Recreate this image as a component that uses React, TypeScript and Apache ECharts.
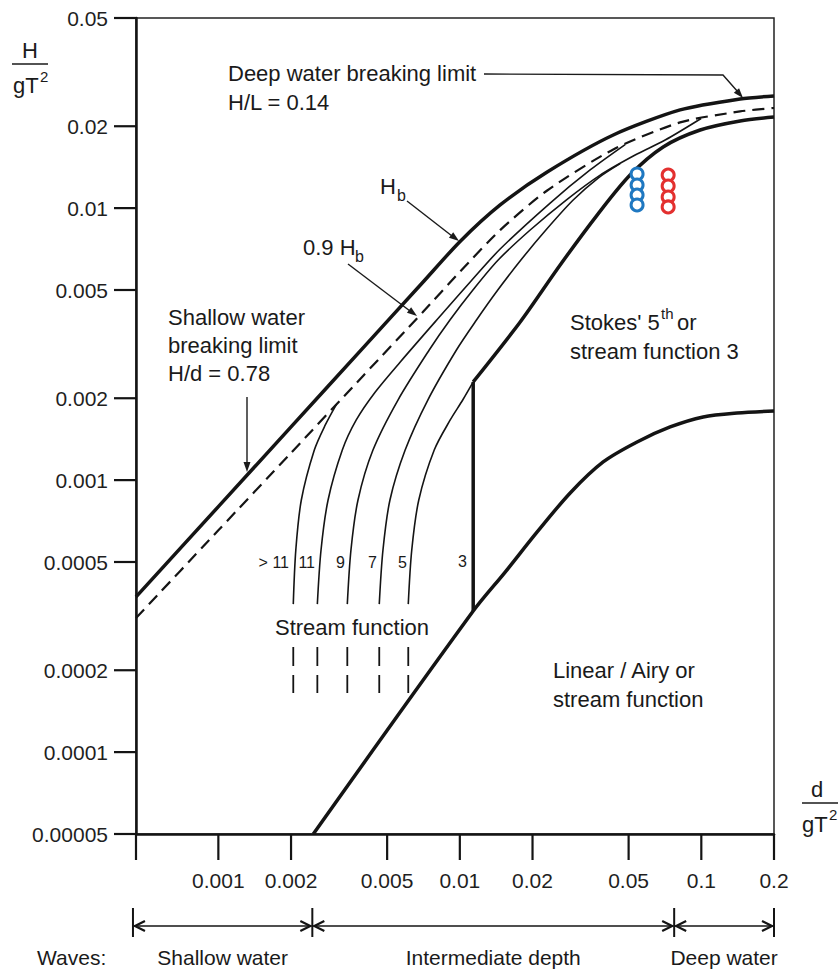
import React, { useEffect, useRef } from "react";
import * as echarts from "echarts";

const FONT = "'Liberation Sans', Arial, Helvetica, sans-serif";
const INK = "#141414";

const X_MIN = 0.000456;
const X_MAX = 0.2;
const Y_MIN = 0.00005;
const Y_MAX = 0.05;

const xTickValues = [0.000456, 0.001, 0.002, 0.005, 0.01, 0.02, 0.05, 0.1, 0.2];
const xTickLabels = ["", "0.001", "0.002", "0.005", "0.01", "0.02", "0.05", "0.1", "0.2"];
const yTickValues = [0.05, 0.02, 0.01, 0.005, 0.002, 0.001, 0.0005, 0.0002, 0.0001, 0.00005];
const yTickLabels = ["0.05", "0.02", "0.01", "0.005", "0.002", "0.001", "0.0005", "0.0002", "0.0001", "0.00005"];

// Breaking limit Hb
const hbD = [0.000456, 0.001, 0.002, 0.004, 0.007, 0.01, 0.01469, 0.023, 0.0432, 0.0817, 0.1447, 0.2];
const hbH = [0.000372, 0.000799, 0.00157, 0.003083, 0.005316, 0.007525, 0.01027, 0.01358, 0.01857, 0.02296, 0.02519, 0.02584];
// 0.9 Hb (dashed)
const dashD = [0.000456, 0.001, 0.002, 0.004, 0.007, 0.01, 0.01469, 0.023, 0.0432, 0.0817, 0.1447, 0.2];
const dashH = [0.000311, 0.000654, 0.001259, 0.002431, 0.00413, 0.00583, 0.0083, 0.01161, 0.01643, 0.02066, 0.02267, 0.02334];
// Stokes 5th / stream function 3 boundary
const stokesD = [0.01136, 0.01778, 0.02603, 0.03704, 0.0507, 0.0695, 0.0989, 0.1447, 0.2];
const stokesH = [0.002296, 0.003814, 0.00618, 0.00943, 0.01323, 0.01678, 0.01937, 0.02091, 0.02163];
// vertical boundary (stream function 3)
const sf3D = [0.01136, 0.01136];
const sf3H = [0.00033, 0.002296];
// Linear / Airy boundary
const linD = [0.002473, 0.01136, 0.01541, 0.02091, 0.02864, 0.03923, 0.0542, 0.0743, 0.1018, 0.1406, 0.2];
const linH = [0.00005, 0.00033, 0.000459, 0.000645, 0.000897, 0.001166, 0.001381, 0.001568, 0.001707, 0.001765, 0.001795];

// Stream function order curves
const sfGt11D = [0.002043, 0.002093, 0.002206, 0.002497, 0.002773, 0.003079];
const sfGt11H = [0.00035, 0.0005535, 0.000845, 0.00129, 0.001595, 0.001895];
const sf11D = [0.00257, 0.002662, 0.002847, 0.003261, 0.003725, 0.004465, 0.005667, 0.008295, 0.01104, 0.01469, 0.02366, 0.03464, 0.04837];
const sf11H = [0.00035, 0.0005535, 0.000845, 0.00129, 0.001664, 0.002109, 0.002719, 0.004012, 0.005352, 0.007073, 0.01044, 0.01381, 0.01712];
const sf9D = [0.00342, 0.003541, 0.003787, 0.004368, 0.005544, 0.007468, 0.0091, 0.01133, 0.014415, 0.01956, 0.02757, 0.03813, 0.05321, 0.07083, 0.0998];
const sf9H = [0.00035, 0.0005535, 0.000845, 0.00129, 0.00197, 0.003009, 0.003879, 0.005, 0.006445, 0.008309, 0.01071, 0.01323, 0.01568, 0.0178, 0.02136];
const sf7D = [0.004638, 0.004805, 0.005136, 0.005937, 0.007369, 0.009681, 0.01172, 0.01436, 0.0179, 0.02272, 0.02947, 0.03739, 0.04612];
const sf7H = [0.00035, 0.0005535, 0.000845, 0.00129, 0.00197, 0.003009, 0.003879, 0.005, 0.006445, 0.008309, 0.01071, 0.0129, 0.01458];
const sf5D = [0.006116, 0.006323, 0.006761, 0.007834, 0.009125, 0.01028, 0.01136];
const sf5H = [0.00035, 0.0005535, 0.000845, 0.00129, 0.001664, 0.00197, 0.002296];

// short dashed stubs under "Stream function"
const stubD = [0.002043, 0.00257, 0.00342, 0.004638, 0.006116];
const stubTop = 0.0002435;
const stubBottom = 0.000165;

// measured points
const blueD = [0.0542, 0.0542, 0.0542, 0.0542];
const blueH = [0.01335, 0.01216, 0.01117, 0.01027];
const redD = [0.0729, 0.0729, 0.0729, 0.0729];
const redH = [0.01323, 0.01206, 0.01099, 0.0101];

// water depth zones
const zoneBounds = [0.000443, 0.00245, 0.0772, 0.2];
const zoneLabels = ["Shallow water", "Intermediate depth", "Deep water"];

const zip = (xs: number[], ys: number[]) => xs.map((x, i) => [x, ys[i]]);

const curve = (name: string, xs: number[], ys: number[], width: number, dash?: number[], smooth = 0.3) => ({
  name,
  type: "line",
  data: zip(xs, ys),
  symbol: "none",
  showSymbol: false,
  smooth,
  silent: true,
  clip: false,
  lineStyle: { color: INK, width, type: dash ? dash : "solid", cap: "butt" },
  z: 3,
});

const txt = (x: number, y: number, text: string, size = 22, align = "left") => ({
  type: "text",
  x,
  y,
  silent: true,
  style: {
    text,
    fill: "#1a1a1a",
    fontSize: size,
    fontFamily: FONT,
    align,
    textAlign: align,
    verticalAlign: "middle",
    textVerticalAlign: "middle",
  },
});

const seg = (x1: number, y1: number, x2: number, y2: number, w = 1.4) => ({
  type: "line",
  silent: true,
  shape: { x1, y1, x2, y2 },
  style: { stroke: "#1a1a1a", lineWidth: w },
});

const head = (tx: number, ty: number, fx: number, fy: number) => {
  const dx = tx - fx;
  const dy = ty - fy;
  const L = Math.sqrt(dx * dx + dy * dy);
  const ux = dx / L;
  const uy = dy / L;
  const bx = tx - ux * 10;
  const by = ty - uy * 10;
  return {
    type: "polygon",
    silent: true,
    shape: { points: [[tx, ty], [bx - uy * 3.5, by + ux * 3.5], [bx + uy * 3.5, by - ux * 3.5]] },
    style: { fill: "#1a1a1a" },
  };
};

export default function App() {
  const ref = useRef<HTMLDivElement>(null);
  useEffect(() => {
    if (!ref.current) return;
    const chart = echarts.init(ref.current, null, { renderer: "svg" });
    const option: any = {
      animation: false,
      backgroundColor: "#ffffff",
      grid: { left: 136, top: 18, width: 638, height: 816, show: true, borderColor: "#222", borderWidth: 1.5, backgroundColor: "transparent" },
      xAxis: {
        type: "log",
        logBase: 10,
        min: X_MIN,
        max: X_MAX,
        axisLine: { show: true, onZero: false, lineStyle: { color: INK, width: 2.5 } },
        axisTick: { show: false },
        axisLabel: { show: false },
        splitLine: { show: false },
        minorTick: { show: false },
      },
      yAxis: {
        type: "log",
        logBase: 10,
        min: Y_MIN,
        max: Y_MAX,
        axisLine: { show: true, onZero: false, lineStyle: { color: INK, width: 2.5 } },
        axisTick: { show: false },
        axisLabel: { show: false },
        splitLine: { show: false },
        minorTick: { show: false },
      },
      series: [
        curve("Hb", hbD, hbH, 3.5, undefined, 0.25),
        curve("0.9 Hb", dashD, dashH, 2.2, [12, 7], 0.25),
        curve("Stokes 5th boundary", stokesD, stokesH, 3.5),
        { ...curve("Stream function 3", sf3D, sf3H, 3.5), smooth: false },
        curve("Linear boundary", linD, linH, 3.5),
        curve("SF >11", sfGt11D, sfGt11H, 1.6),
        curve("SF 11", sf11D, sf11H, 1.6),
        curve("SF 9", sf9D, sf9H, 1.6),
        curve("SF 7", sf7D, sf7H, 1.6),
        curve("SF 5", sf5D, sf5H, 1.6),
        {
          type: "custom",
          coordinateSystem: "cartesian2d",
          silent: true,
          data: stubD.map((d) => [d, stubTop]),
          renderItem: (params: any, api: any) => {
            const a = api.coord([api.value(0), stubTop]);
            const b = api.coord([api.value(0), stubBottom]);
            return {
              type: "line",
              shape: { x1: a[0], y1: a[1], x2: b[0], y2: b[1] },
              style: { stroke: INK, lineWidth: 1.8, lineDash: [19, 9] },
            };
          },
        },
        {
          type: "custom",
          coordinateSystem: "cartesian2d",
          silent: true,
          data: xTickValues.map((v, i) => [v, Y_MIN, i]),
          renderItem: (params: any, api: any) => {
            const p = api.coord([api.value(0), Y_MIN]);
            const i = params.dataIndex;
            return {
              type: "group",
              children: [
                { type: "line", shape: { x1: p[0], y1: p[1], x2: p[0], y2: p[1] + 26 }, style: { stroke: INK, lineWidth: 2.2 } },
                {
                  type: "text",
                  x: p[0],
                  y: p[1] + 46,
                  style: { text: xTickLabels[i], fill: "#1f1f1f", fontSize: 21, fontFamily: FONT, align: "center", textAlign: "center", verticalAlign: "middle", textVerticalAlign: "middle" },
                },
              ],
            };
          },
        },
        {
          type: "custom",
          coordinateSystem: "cartesian2d",
          silent: true,
          data: yTickValues.map((v) => [X_MIN, v]),
          renderItem: (params: any, api: any) => {
            const p = api.coord([X_MIN, api.value(1)]);
            const i = params.dataIndex;
            return {
              type: "group",
              children: [
                { type: "line", shape: { x1: p[0] - 22, y1: p[1], x2: p[0], y2: p[1] }, style: { stroke: INK, lineWidth: 2.2 } },
                {
                  type: "text",
                  x: p[0] - 28,
                  y: p[1],
                  style: { text: yTickLabels[i], fill: "#1f1f1f", fontSize: 21, fontFamily: FONT, align: "right", textAlign: "right", verticalAlign: "middle", textVerticalAlign: "middle" },
                },
              ],
            };
          },
        },
        {
          type: "custom",
          coordinateSystem: "cartesian2d",
          silent: true,
          data: zoneBounds.map((b) => [b, Y_MIN]),
          renderItem: (params: any, api: any) => {
            const i = params.dataIndex;
            const p = api.coord([zoneBounds[i], Y_MIN]);
            const y = p[1] + 92;
            const children: any[] = [
              { type: "line", shape: { x1: p[0], y1: p[1] + 74, x2: p[0], y2: p[1] + 103 }, style: { stroke: INK, lineWidth: 2 } },
            ];
            if (i < zoneBounds.length - 1) {
              const q = api.coord([zoneBounds[i + 1], Y_MIN]);
              children.push({ type: "line", shape: { x1: p[0] + 1, y1: y, x2: q[0] - 1, y2: y }, style: { stroke: INK, lineWidth: 1.5 } });
              children.push({ type: "polyline", shape: { points: [[p[0] + 12, y - 5], [p[0] + 2, y], [p[0] + 12, y + 5]] }, style: { stroke: INK, fill: "none", lineWidth: 2.2 } });
              children.push({ type: "polyline", shape: { points: [[q[0] - 12, y - 5], [q[0] - 2, y], [q[0] - 12, y + 5]] }, style: { stroke: INK, fill: "none", lineWidth: 2.2 } });
              children.push({
                type: "text",
                x: (p[0] + q[0]) / 2,
                y: p[1] + 123,
                style: { text: zoneLabels[i], fill: "#1a1a1a", fontSize: 21, fontFamily: FONT, align: "center", textAlign: "center", verticalAlign: "middle", textVerticalAlign: "middle" },
              });
            }
            return { type: "group", children };
          },
        },
        {
          name: "blue",
          type: "scatter",
          data: zip(blueD, blueH),
          symbol: "circle",
          symbolSize: 12,
          silent: true,
          itemStyle: { color: "#ffffff", borderColor: "#1f78c1", borderWidth: 3, opacity: 1 },
          z: 5,
        },
        {
          name: "red",
          type: "scatter",
          data: zip(redD, redH),
          symbol: "circle",
          symbolSize: 12,
          silent: true,
          itemStyle: { color: "#ffffff", borderColor: "#e3302f", borderWidth: 3, opacity: 1 },
          z: 5,
        },
      ],
      graphic: [
        // axis titles
        txt(30, 50, "H", 22, "center"),
        seg(12, 64, 48, 64, 1.5),
        txt(13, 85, "gT", 22),
        txt(40, 76, "2", 15),
        txt(817, 789, "d", 22, "center"),
        seg(802, 803, 838, 803, 1.5),
        txt(802, 824, "gT", 22),
        txt(829, 814, "2", 15),
        // deep water breaking limit
        txt(228, 73, "Deep water breaking limit"),
        txt(228, 102, "H/L = 0.14"),
        { type: "polyline", silent: true, shape: { points: [[484, 74], [723, 75], [738, 92]] }, style: { stroke: "#1a1a1a", fill: "none", lineWidth: 1.4 } },
        head(743, 98, 723, 75),
        // Hb
        txt(380, 186, "H"),
        txt(397, 195, "b", 16),
        seg(407, 201, 452, 236),
        head(459, 241, 407, 201),
        // 0.9 Hb
        txt(303, 247, "0.9 H"),
        txt(355, 256, "b", 16),
        seg(348, 264, 410, 311),
        head(417, 316, 348, 264),
        // shallow water breaking limit
        txt(168, 317, "Shallow water"),
        txt(168, 345, "breaking limit"),
        txt(168, 373, "H/d = 0.78"),
        seg(247, 397, 247, 463),
        head(247, 472, 247, 397),
        // Stokes
        txt(570, 322, "Stokes' 5"),
        txt(661, 313, "th", 15),
        txt(677, 322, "or"),
        txt(570, 351, "stream function 3"),
        // Linear
        txt(553, 670, "Linear / Airy or"),
        txt(553, 699, "stream function"),
        // Stream function orders
        txt(289, 562, "> 11", 16, "right"),
        txt(315, 562, "11", 16, "right"),
        txt(345, 562, "9", 16, "right"),
        txt(377, 562, "7", 16, "right"),
        txt(407, 562, "5", 16, "right"),
        txt(467, 561, "3", 16, "right"),
        txt(352, 627, "Stream function", 22, "center"),
        // bottom row
        txt(37, 957, "Waves:", 21),
      ],
    };
    chart.setOption(option);
    return () => chart.dispose();
  }, []);
  return <div ref={ref} style={{ position: "absolute", left: 0, top: 0, width: 838, height: 972, background: "#fff" }} />;
}
